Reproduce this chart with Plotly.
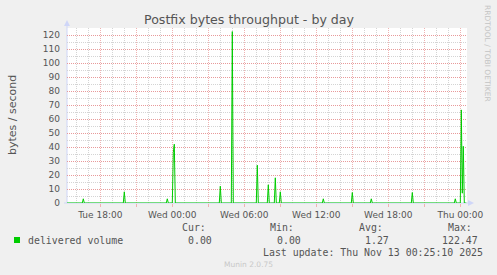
import plotly.graph_objects as go
import pandas as pd

# ---- data (5-minute samples, zero elsewhere) ----
series_start = "2025-11-11 15:10"
series_end = "2025-11-13 00:30"
spike_times = [
    "2025-11-11 16:35", "2025-11-11 20:00", "2025-11-11 23:35",
    "2025-11-12 00:05", "2025-11-12 00:10", "2025-11-12 04:00",
    "2025-11-12 05:00", "2025-11-12 07:05", "2025-11-12 08:00",
    "2025-11-12 08:35", "2025-11-12 09:00", "2025-11-12 12:35",
    "2025-11-12 15:00", "2025-11-12 16:35", "2025-11-12 20:00",
    "2025-11-12 23:35", "2025-11-13 00:05", "2025-11-13 00:10",
    "2025-11-13 00:15",
]
spike_values = [3, 8, 3, 36, 42, 12, 122.47, 27, 13, 18, 8, 3, 7.5, 3, 7.5, 3, 66.5, 7, 40.5]

tick_vals = [
    "2025-11-11 15:00", "2025-11-11 18:00", "2025-11-11 21:00",
    "2025-11-12 00:00", "2025-11-12 03:00", "2025-11-12 06:00",
    "2025-11-12 09:00", "2025-11-12 12:00", "2025-11-12 15:00",
    "2025-11-12 18:00", "2025-11-12 21:00", "2025-11-13 00:00",
]
tick_text = ["", "Tue 18:00", "", "Wed 00:00", "", "Wed 06:00", "",
             "Wed 12:00", "", "Wed 18:00", "", "Thu 00:00"]
y_ticks = [0, 10, 20, 30, 40, 50, 60, 70, 80, 90, 100, 110, 120]
y_minor = [5, 15, 25, 35, 45, 55, 65, 75, 85, 95, 105, 115, 125]

legend_label = "delivered volume"
stat_names = ["Cur:", "Min:", "Avg:", "Max:"]
stat_values = ["0.00", "0.00", "1.27", "122.47"]
last_update = "Last update: Thu Nov 13 00:25:10 2025"

# ---- build series ----
idx = pd.date_range(series_start, series_end, freq="5min")
vals = pd.Series(0.0, index=idx)
for t, v in zip(spike_times, spike_values):
    vals[pd.Timestamp(t)] = v

W, H = 497, 275
L, R, T, B = 67, 467, 28, 203
PW, PH = R - L, B - T


def px(x):
    return (x - L) / PW


def py(y):
    return (B - y) / PH


x_range = ["2025-11-11 15:13:30", "2025-11-13 00:33:30"]
hour_grid = [t for t in pd.date_range("2025-11-11 15:00", "2025-11-13 01:00", freq="1h")
             if t.hour % 3 != 0]

fig = go.Figure()
fig.add_trace(go.Scatter(x=idx, y=vals.values, mode="lines",
                         line=dict(color="#00CC00", width=1),
                         hoverinfo="skip", showlegend=False))

font_main = "DejaVu Sans"
font_mono = "DejaVu Sans Mono"
grid_minor = "#d4d4d4"
grid_major_x = "#efb2b2"
grid_major_y = "#e89a9a"

fig.update_layout(
    width=W, height=H, autosize=False,
    margin=dict(l=L, r=W - R, t=T, b=H - B, pad=0),
    paper_bgcolor="#F0F0F0", plot_bgcolor="#FFFFFF",
    font=dict(family=font_main, color="#666666", size=9),
    xaxis=dict(
        type="date", range=x_range,
        tickmode="array", tickvals=tick_vals, ticktext=tick_text,
        showgrid=True, gridcolor=grid_major_x, griddash="1px,1px", gridwidth=1,
        ticks="outside", ticklen=3, tickcolor=grid_major_x,
        tickfont=dict(family=font_main, size=9, color="#555555"),
        minor=dict(tickmode="array", tickvals=hour_grid, showgrid=True,
                   gridcolor=grid_minor, griddash="1px,1px", gridwidth=1),
        showline=False, zeroline=False, fixedrange=True,
    ),
    yaxis=dict(
        range=[0, 125], tickmode="array", tickvals=y_ticks,
        showgrid=True, gridcolor=grid_major_y, griddash="1px,1px", gridwidth=1,
        ticks="", ticklabelstandoff=6,
        tickfont=dict(family=font_main, size=9, color="#555555"),
        minor=dict(tickmode="array", tickvals=y_minor, showgrid=True,
                   gridcolor=grid_minor, griddash="1px,1px", gridwidth=1),
        showline=False, zeroline=False, fixedrange=True,
    ),
)

axis_col = "#CFD6F8"
shapes = [
    dict(type="line", xref="paper", yref="paper", x0=px(67), x1=px(67),
         y0=py(203), y1=py(24), line=dict(color=axis_col, width=1)),
    dict(type="path", xref="paper", yref="paper",
         path=f"M {px(64)} {py(26)} L {px(70)} {py(26)} L {px(67)} {py(20)} Z",
         fillcolor=axis_col, line=dict(color=axis_col, width=0)),
    dict(type="line", xref="paper", yref="paper", x0=px(64), x1=px(470),
         y0=py(203), y1=py(203), line=dict(color=axis_col, width=1)),
    dict(type="path", xref="paper", yref="paper",
         path=f"M {px(468)} {py(200)} L {px(468)} {py(206)} L {px(474)} {py(203)} Z",
         fillcolor=axis_col, line=dict(color=axis_col, width=0)),
    dict(type="rect", xref="paper", yref="paper", x0=px(14), x1=px(20),
         y0=py(243), y1=py(237), fillcolor="#00CC00", line=dict(width=0)),
]
fig.update_layout(shapes=shapes)
for s in fig.layout.shapes:
    s.layer = "below"


def ann(text, x, y, size, family=font_main, color="#666666", xanchor="left",
        yanchor="middle", angle=0):
    fig.add_annotation(text=text, x=px(x), y=py(y), xref="paper", yref="paper",
                       showarrow=False, xanchor=xanchor, yanchor=yanchor,
                       textangle=angle, borderpad=0,
                       font=dict(family=family, size=size, color=color))


ann("Postfix bytes throughput - by day", 249, 19, 12.6, color="#555555",
    xanchor="center")
ann("bytes / second", 12, 115, 11, color="#555555", xanchor="center", angle=-90)
ann("RRDTOOL / TOBI OETIKER", 488, 53, 7.5, color="#c4c4c4", xanchor="center",
    angle=90)

ann(legend_label, 26.5, 240, 9.9, family=font_mono, color="#555555")
stat_x = [181, 269.3, 358.3, 446.7]
val_x = [186.7, 275.7, 364.3, 441]
for name, xx in zip(stat_names, stat_x):
    ann(name, xx, 227.5, 9.9, family=font_mono, color="#555555")
for v, xx in zip(stat_values, val_x):
    ann(v, xx, 240, 9.9, family=font_mono, color="#555555")
ann(last_update, 261.5, 252, 9.9, family=font_mono, color="#555555")
ann("Munin 2.0.75", 248, 264, 7.5, color="#c8c8c8", xanchor="center")

fig.write_html("out.html", config=dict(displayModeBar=False, staticPlot=True))
